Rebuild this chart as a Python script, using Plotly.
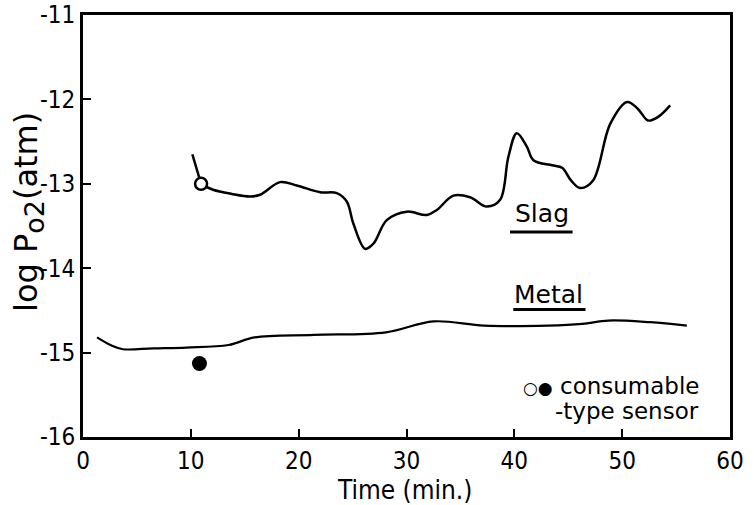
import plotly.graph_objects as go

# Slag curve (time in min, log Po2)
slag_t = [10.14, 10.5, 10.95, 12.06, 13.8, 15.49, 16.42, 18.27, 19.82, 21.99, 23.53, 24.46, 25.07,
          26.16, 26.93, 28.17, 30.03, 31.88, 32.81, 34.35, 35.9, 37.45, 38.68, 39.45, 40.23,
          41.16, 41.77, 43.5, 44.43, 45.25, 46.1, 47.3, 48.89, 50.46, 51.44, 52.4, 53.3, 54.45]
slag_v = [-12.65, -12.82, -13.0, -13.07, -13.12, -13.15, -13.13, -12.98, -13.02, -13.10, -13.11, -13.21, -13.47,
          -13.77, -13.71, -13.43, -13.33, -13.37, -13.31, -13.14, -13.16, -13.27, -13.19, -12.68, -12.40,
          -12.56, -12.72, -12.78, -12.81, -12.96, -13.05, -12.96, -12.29, -12.03, -12.11, -12.25, -12.21, -12.07]

# Metal curve
metal_t = [1.3, 2.7, 3.7, 6.5, 9.6, 13.5, 15.9, 21.4, 28.1, 32.5, 37.2, 43.1, 46.3, 48.7, 52.6, 56.0]
metal_v = [-14.82, -14.92, -14.96, -14.95, -14.94, -14.91, -14.82, -14.79, -14.76, -14.63, -14.68,
           -14.68, -14.66, -14.62, -14.64, -14.68]

# Consumable-type sensor readings
sensor_slag_t, sensor_slag_v = [10.95], [-13.0]
sensor_metal_t, sensor_metal_v = [10.8], [-15.13]

x_ticks = [0, 10, 20, 30, 40, 50, 60]
y_ticks = [-16, -15, -14, -13, -12, -11]

FONT = "DejaVu Sans Condensed, Liberation Sans Narrow, DejaVu Sans, sans-serif"
TXT = "DejaVu Sans, sans-serif"

fig = go.Figure()
fig.add_trace(go.Scatter(x=slag_t[:3], y=slag_v[:3], mode="lines",
                         line=dict(color="black", width=2.5), showlegend=False))
fig.add_trace(go.Scatter(x=slag_t[2:], y=slag_v[2:], mode="lines",
                         line=dict(color="black", width=2.5, shape="spline", smoothing=1.0),
                         showlegend=False))
fig.add_trace(go.Scatter(x=metal_t, y=metal_v, mode="lines",
                         line=dict(color="black", width=2.2, shape="spline", smoothing=1.0),
                         showlegend=False))
fig.add_trace(go.Scatter(x=sensor_slag_t, y=sensor_slag_v, mode="markers",
                         marker=dict(symbol="circle", size=12, color="white",
                                     line=dict(color="black", width=2.5)), showlegend=False))
fig.add_trace(go.Scatter(x=sensor_metal_t, y=sensor_metal_v, mode="markers",
                         marker=dict(symbol="circle", size=15, color="black"), showlegend=False))

fig.add_annotation(x=42.6, y=-13.35, text="Slag", showarrow=False,
                   font=dict(family=TXT, size=25, color="black"))
fig.add_annotation(x=43.2, y=-14.31, text="Metal", showarrow=False,
                   font=dict(family=TXT, size=25, color="black"))
fig.add_shape(type="line", x0=39.6, x1=45.4, y0=-13.57, y1=-13.57, line=dict(color="black", width=3))
fig.add_shape(type="line", x0=39.9, x1=46.6, y0=-14.49, y1=-14.49, line=dict(color="black", width=3))

fig.add_annotation(x=57.2, y=-15.40, showarrow=False, xanchor="right", borderpad=0,
                   text="<span style='font-size:17px'>○●</span> consumable",
                   font=dict(family=TXT, size=23, color="black"))
fig.add_annotation(x=57.2, y=-15.69, text="-type sensor", showarrow=False, xanchor="right",
                   borderpad=0, font=dict(family=TXT, size=23, color="black"))

# axis titles as annotations for exact placement
fig.add_annotation(xref="paper", yref="paper", x=(404 - 83) / 647, y=(437 - 490) / 422,
                   text="Time (min.)", showarrow=False, xanchor="center", yanchor="middle",
                   borderpad=0, font=dict(family=FONT, size=26, color="black"))
fig.add_annotation(xref="paper", yref="paper", x=(28 - 83) / 647, y=(437 - 212) / 422,
                   text="log P<sub><span style='font-size:27px'>o2</span></sub>(atm)", textangle=-90,
                   showarrow=False, xanchor="center", yanchor="middle",
                   font=dict(family=TXT, size=32, color="black"))

axis_common = dict(showgrid=False, zeroline=False, showline=True, linecolor="black", linewidth=3,
                   mirror=True, ticks="inside", ticklen=8, tickwidth=2, tickcolor="black",
                   automargin=False,
                   tickfont=dict(family=FONT, size=24, color="black"))

fig.update_xaxes(range=[0, 60], tickvals=x_ticks, ticktext=[str(v) for v in x_ticks], **axis_common)
fig.update_yaxes(range=[-16, -11], tickvals=y_ticks, ticktext=[str(v) for v in y_ticks], **axis_common)

fig.update_layout(width=754, height=505, margin=dict(l=83, r=24, t=15, b=68),
                  plot_bgcolor="white", paper_bgcolor="white", showlegend=False)

fig.write_html("out.html", config={"displayModeBar": False, "staticPlot": True},
               post_script="document.body.style.margin='0';")
